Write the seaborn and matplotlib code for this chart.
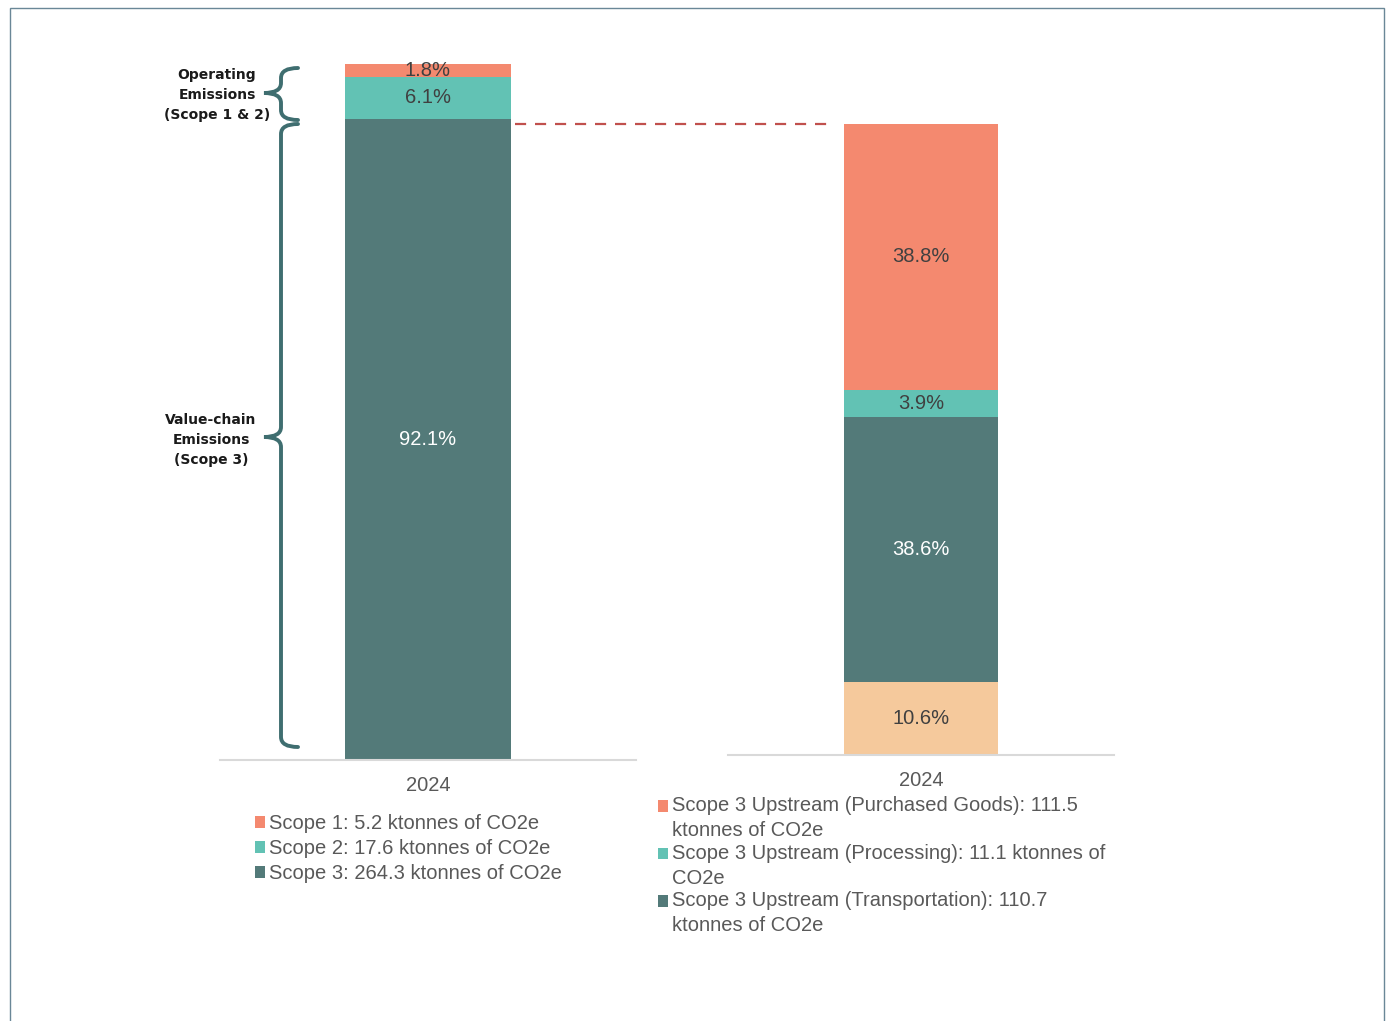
import seaborn as sns
import matplotlib.pyplot as plt
from matplotlib.path import Path
from matplotlib.patches import PathPatch, Rectangle
from matplotlib.lines import Line2D

# data
year = "2024"

left_pct = [92.1, 6.1, 1.8]
left_labels = ["Scope 3: 264.3 ktonnes of CO2e",
               "Scope 2: 17.6 ktonnes of CO2e",
               "Scope 1: 5.2 ktonnes of CO2e"]
left_colors = ["#537A79", "#62C2B4", "#F4896F"]
left_txt = ["white", "#404040", "#404040"]

right_pct = [10.6, 38.6, 3.9, 38.8]
right_labels = [None,
                "Scope 3 Upstream (Transportation): 110.7\nktonnes of CO2e",
                "Scope 3 Upstream (Processing): 11.1 ktonnes of\nCO2e",
                "Scope 3 Upstream (Purchased Goods): 111.5\nktonnes of CO2e"]
right_colors = ["#F5C99C", "#537A79", "#62C2B4", "#F4896F"]
right_txt = ["#404040", "white", "#404040", "#404040"]

sns.set_style("white")
plt.rcParams['font.family'] = ['Liberation Sans', 'DejaVu Sans']

W, H = 1391, 1021
fig = plt.figure(figsize=(W / 100, H / 100), dpi=100)


def px(x, y):
    return x / W, 1 - y / H


def stacked(ax, pcts, colors, txt):
    bottom = 0
    for p, c, tc in zip(pcts, colors, txt):
        sns.barplot(x=[year], y=[p], bottom=bottom, color=c, width=0.4,
                    saturation=1, linewidth=0, ax=ax)
        ax.text(0, bottom + p / 2, f"{p}%", ha="center", va="center",
                color=tc, fontsize=14.5)
        bottom += p
    ax.set_xlim(-0.5, 0.5)
    ax.set_ylim(0, 100)
    ax.set_yticks([])
    ax.set_xlabel("")
    ax.set_ylabel("")
    for s in ["top", "left", "right"]:
        ax.spines[s].set_visible(False)
    ax.spines["bottom"].set_color("#D9D9D9")
    ax.spines["bottom"].set_linewidth(1.5)
    ax.tick_params(axis="x", length=0, pad=11.5, labelsize=14.5, labelcolor="#595959")


ax1 = fig.add_axes([220 / W, 1 - 760 / H, 416 / W, 696 / H])
stacked(ax1, left_pct, left_colors, left_txt)

ax2 = fig.add_axes([728 / W, 1 - 755 / H, 386 / W, 687 / H])
stacked(ax2, right_pct, right_colors, right_txt)

# legends
h1 = [ax1.containers[i] for i in [2, 1, 0]]
l1 = [left_labels[i] for i in [2, 1, 0]]
leg1 = fig.legend(h1, l1, loc="upper left", bbox_to_anchor=px(255, 814),
                  frameon=False, borderpad=0, borderaxespad=0, handlelength=0.5,
                  handleheight=0.5, handletextpad=0.2, labelspacing=0.3,
                  fontsize=14.5, labelcolor="#595959")

h2 = [ax2.containers[i] for i in [3, 2, 1]]
l2 = [right_labels[i] for i in [3, 2, 1]]
leg2 = fig.legend(h2, l2, loc="upper left", bbox_to_anchor=px(658, 796),
                  frameon=False, borderpad=0, borderaxespad=0, handlelength=0.5,
                  handleheight=0.5, handletextpad=0.2, labelspacing=0.18,
                  fontsize=14.5, labelcolor="#595959")
for t in leg2.get_texts():
    t.set_linespacing(1.4)
# put the square next to the first line of each wrapped entry
for hnd in leg2.legend_handles:
    hnd.set_y(hnd.get_y() + 9)


# curly braces
def brace(x, y0, ym, y1, d=17, r=10):
    pts = [(x + d, y0), (x, y0), (x, y0 + r),
           (x, ym - r), (x, ym), (x - d, ym),
           (x, ym), (x, ym + r),
           (x, y1 - r), (x, y1), (x + d, y1)]
    codes = [Path.MOVETO, Path.CURVE3, Path.CURVE3,
             Path.LINETO, Path.CURVE3, Path.CURVE3,
             Path.CURVE3, Path.CURVE3,
             Path.LINETO, Path.CURVE3, Path.CURVE3]
    path = Path([px(a, b) for a, b in pts], codes)
    fig.add_artist(PathPatch(path, fill=False, edgecolor="#3F6E70", lw=2.8,
                             transform=fig.transFigure, capstyle="round"))


brace(281, 68, 93, 120)
brace(281, 124, 437, 747)

fig.text(*px(217, 95), "Operating\nEmissions\n(Scope 1 & 2)", ha="center", va="center",
         fontsize=10, fontweight="bold", family="DejaVu Sans", color="#1A1A1A",
         linespacing=1.55)
fig.text(*px(211, 440), "Value-chain\nEmissions\n(Scope 3)", ha="center", va="center",
         fontsize=10, fontweight="bold", family="DejaVu Sans", color="#1A1A1A",
         linespacing=1.55)

# dashed connector
x0, y0 = px(515, 124)
x1, _ = px(828, 124)
fig.add_artist(Line2D([x0, x1], [y0, y0], color="#C0504D", lw=1.6,
                      linestyle=(0, (5, 4)), transform=fig.transFigure))

# outer frame
fx, fy = px(10, 1030)
fw = (1384 - 10) / W
fh = (1030 - 8) / H
fig.add_artist(Rectangle((fx, fy), fw, fh, fill=False, edgecolor="#6A8797",
                         lw=1, transform=fig.transFigure))

fig.savefig("out.png", dpi=100)
